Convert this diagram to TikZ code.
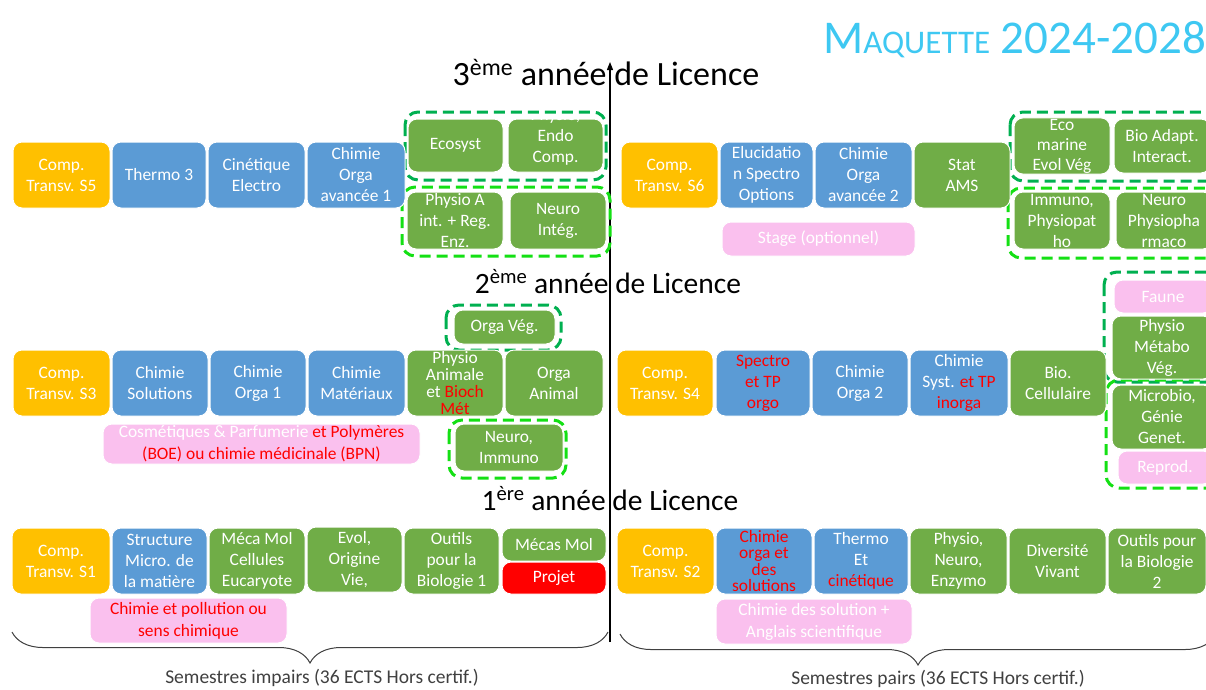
\documentclass[tikz,border=0pt]{standalone}
\usepackage{fontspec}
\setmainfont{Carlito}
\usetikzlibrary{arrows.meta,decorations.pathreplacing}
\definecolor{orangeC}{HTML}{FFC000}
\definecolor{blueC}{HTML}{5B9BD5}
\definecolor{greenC}{HTML}{70AD47}
\definecolor{pinkC}{HTML}{FAC0EE}
\definecolor{redC}{HTML}{FF0000}
\definecolor{dgreenC}{HTML}{00B050}
\definecolor{lgreenC}{HTML}{14E014}
\definecolor{cyanC}{HTML}{3EC8F2}
\definecolor{grayC}{HTML}{404040}
\newcommand\bx[8][]{\node[ubox,fill=#7,minimum width={#5-#3},minimum height={#6-#4},#1] (#2) at ({(#3+#5)/2},{(#4+#6)/2}) {#8};}
\newcommand\rd[1]{\textcolor{redC}{#1}}
\begin{document}
\begin{tikzpicture}[x=1pt,y=-1pt,
  ubox/.style={draw=white,line width=1pt,rounded corners=9pt,text=white,align=center,inner sep=1pt,font=\fontsize{17.4}{21}\selectfont},
  txt/.style={text=white,align=center,inner sep=0pt,font=\fontsize{17.4}{21}\selectfont},
  grpD/.style={draw=dgreenC,line width=3pt,dash pattern=on 11pt off 6pt,rounded corners=13pt},
  grpL/.style={draw=lgreenC,line width=3pt,dash pattern=on 11pt off 6pt,rounded corners=13pt},
  head/.style={text=black,inner sep=0pt,anchor=base},
  foot/.style={text=grayC,inner sep=0pt,anchor=base,font=\fontsize{19.5}{22}\selectfont},
  brc/.style={draw=grayC,line width=1pt,decorate,decoration={brace,mirror,amplitude=31pt}}]
\clip (0,0) rectangle (1206,689);
\fill[white] (0,0) rectangle (1206,689);

% title
\node[anchor=base east,inner sep=0pt,text=cyanC] (title) at (1206,53)
  {\fontsize{47}{47}\selectfont M\fontsize{33}{33}\selectfont AQUETTE\fontsize{47}{47}\selectfont{} 2024-2028};

% vertical arrow
\coordinate (abot) at (610,642);
\coordinate (atop) at (610,62);
\draw[line width=1.2pt,-{Triangle[length=8pt,width=6pt]}] (abot) -- (atop);

% headings
\node[head,font=\fontsize{34}{34}\selectfont] (h3) at (606,85) {3\textsuperscript{ème} année de Licence};
\node[head,font=\fontsize{29.5}{30}\selectfont] (h2) at (608,293) {2\textsuperscript{ème} année de Licence};
\node[head,font=\fontsize{29.5}{30}\selectfont] (h1) at (610,510) {1\textsuperscript{ère} année de Licence};

% dashed groups
\draw[grpD] (405,112) rectangle (606,180);
\draw[grpL] (402,187) rectangle (610,256);
\draw[grpD] (1010,112) rectangle (1230,181);
\draw[grpL] (1008,188) rectangle (1230,258);
\draw[grpD] (446,305) rectangle (561,350);
\draw[grpL] (449,420) rectangle (566,478);
\draw[grpD] (1104,272) rectangle (1230,382);
\draw[grpL] (1106,380) rectangle (1230,488);

% ---- S5
\bx{cs5}{13}{142}{110}{208}{orangeC}{Comp.\\Transv. S5}
\bx{th3}{112}{142}{206}{208}{blueC}{Thermo 3}
\bx{cin}{208}{142}{305}{208}{blueC}{Cinétique\\Electro}
\bx{coa1}{307}{142}{405}{208}{blueC}{Chimie\\Orga\\avancée 1}
\bx{eco}{408}{119}{503}{172}{greenC}{Ecosyst}
\bx{pec}{508}{119}{603}{172}{greenC}{}
\begin{scope}
\clip (508,116) rectangle (603,180);
\node[txt] (pect) at (555.5,137) {Physio,\\Endo\\Comp.};
\end{scope}
\bx{pai}{407}{192}{503}{249}{greenC}{Physio A\\int. + Reg.\\Enz.}
\bx{ni}{510}{192}{606}{249}{greenC}{Neuro\\Intég.}

% ---- S6
\bx{cs6}{621}{142}{718}{208}{orangeC}{Comp.\\Transv. S6}
\bx{elu}{720}{142}{813}{208}{blueC}{Elucidatio\\n Spectro\\Options}
\bx{coa2}{815}{142}{912}{208}{blueC}{Chimie\\Orga\\avancée 2}
\bx{stat}{914}{142}{1010}{208}{greenC}{Stat\\AMS}
\bx[font=\fontsize{17.4}{20}\selectfont]{ecom}{1014}{119}{1110}{173}{greenC}{Eco\\marine\\Evol Vég}
\bx{bio}{1114}{119}{1210}{173}{greenC}{Bio Adapt.\\Interact.}
\bx{imm}{1014}{192}{1110}{249}{greenC}{Immuno,\\Physiopat\\ho}
\bx{nph}{1116}{192}{1212}{249}{greenC}{Neuro\\Physiopha\\rmaco}
\bx{stage}{722}{222}{915}{256}{pinkC}{Stage (optionnel)}

% ---- S3
\bx{cs3}{13}{350}{110}{416}{orangeC}{Comp.\\Transv. S3}
\bx{csol}{112}{350}{208}{416}{blueC}{Chimie\\Solutions}
\bx{co1}{210}{350}{306}{416}{blueC}{Chimie\\Orga 1}
\bx{cmat}{308}{350}{405}{416}{blueC}{Chimie\\Matériaux}
\bx[font=\fontsize{17.4}{17}\selectfont]{pab}{407}{350}{503}{416}{greenC}{Physio\\Animale\\et \rd{Bioch}\\\rd{Mét}}
\bx{oa}{505}{350}{603}{416}{greenC}{Orga\\Animal}
\bx{ov}{454}{310}{555}{344}{greenC}{Orga Vég.}
\bx[font=\fontsize{17.4}{22}\selectfont]{cosm}{103}{424}{420}{464}{pinkC}{Cosmétiques \& Parfumerie \rd{et Polymères}\\\rd{(BOE) ou chimie médicinale (BPN)}}
\bx{nim}{455}{424}{563}{471}{greenC}{Neuro,\\Immuno}

% ---- S4
\bx{cs4}{617}{350}{713}{416}{orangeC}{Comp.\\Transv. S4}
\bx[text=redC]{spe}{716}{350}{810}{416}{blueC}{Spectro\\et TP\\orgo}
\bx{co2}{812}{350}{908}{416}{blueC}{Chimie\\Orga 2}
\bx{csy}{910}{350}{1008}{416}{blueC}{Chimie\\Syst. \rd{et TP}\\\rd{inorga}}
\bx{bc}{1010}{350}{1106}{416}{greenC}{Bio.\\Cellulaire}
\bx{faune}{1114}{280}{1212}{313}{pinkC}{Faune}
\bx{pmv}{1112}{316}{1212}{379}{greenC}{Physio\\Métabo\\Vég.}
\bx{mgg}{1112}{385}{1212}{449}{greenC}{Microbio,\\Génie\\Genet.}
\bx{rep}{1118}{451}{1212}{484}{pinkC}{Reprod.}

% ---- S1
\bx{cs1}{12}{528}{110}{594}{orangeC}{Comp.\\Transv. S1}
\bx{smm}{112}{528}{207}{594}{blueC}{Structure\\Micro. de\\la matière}
\bx{mmc}{209}{528}{305}{594}{greenC}{Méca Mol\\Cellules\\Eucaryote}
\bx{evo}{307}{527}{402}{592}{greenC}{Evol,\\Origine\\Vie,}
\bx{ob1}{404}{528}{499}{594}{greenC}{Outils\\pour la\\Biologie 1}
\bx{mmol}{502}{528}{606}{561}{greenC}{Mécas Mol}
\bx{proj}{502}{562}{606}{594}{redC}{Projet}
\bx[text=redC,font=\fontsize{17.4}{22}\selectfont]{cpol}{90}{598}{287}{643}{pinkC}{Chimie et pollution ou\\sens chimique}

% ---- S2
\bx{cs2}{617}{528}{714}{594}{orangeC}{Comp.\\Transv. S2}
\bx[text=redC,font=\fontsize{17.4}{16.5}\selectfont]{cos}{716}{528}{812}{594}{blueC}{Chimie\\orga et\\des\\solutions}
\bx{tec}{814}{528}{908}{594}{blueC}{Thermo\\Et\\\rd{cinétique}}
\bx{pne}{910}{528}{1007}{594}{greenC}{Physio,\\Neuro,\\Enzymo}
\bx{div}{1009}{528}{1106}{594}{greenC}{Diversité\\Vivant}
\bx{ob2}{1108}{528}{1206}{594}{greenC}{Outils pour\\la Biologie\\2}
\bx[font=\fontsize{17.4}{22}\selectfont]{csa}{716}{599}{912}{644}{pinkC}{Chimie des solution +\\Anglais scientifique}

% braces and footers
\coordinate (b1l) at (12,632);
\coordinate (b1r) at (608,632);
\coordinate (b2l) at (620,634);
\coordinate (b2r) at (1216,634);
\draw[brc] (b1l) -- (b1r);
\draw[brc] (b2l) -- (b2r);
\node[foot] (f1) at (322,683) {Semestres impairs (36 ECTS Hors certif.)};
\node[foot] (f2) at (938,684.5) {Semestres pairs (36 ECTS Hors certif.)};
\end{tikzpicture}
\end{document}
